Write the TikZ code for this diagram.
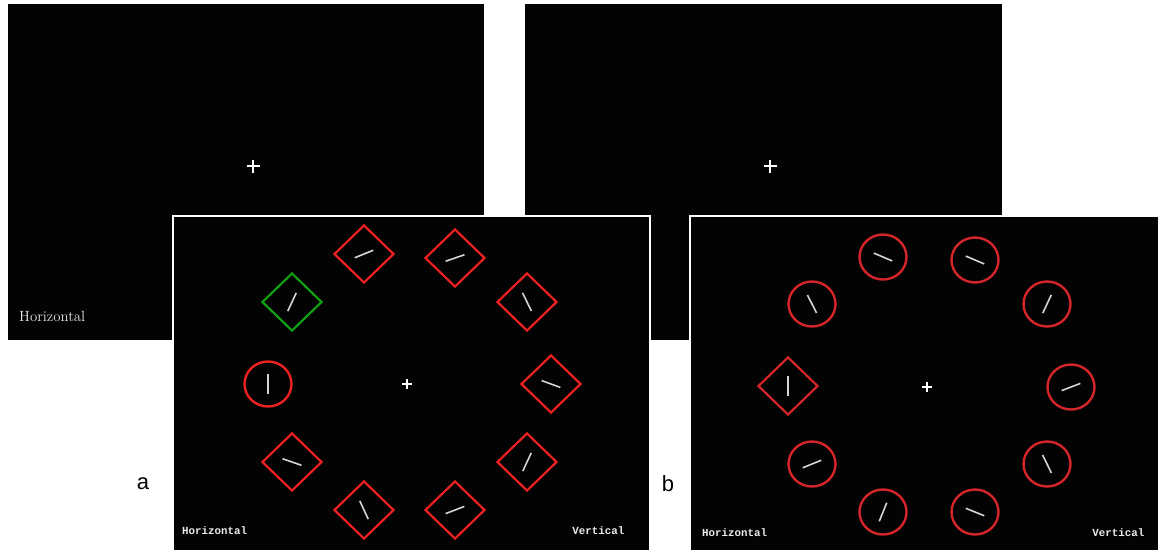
\documentclass[tikz,border=0pt]{standalone}
\usepackage{fontspec}
\setmonofont{Liberation Mono}
\newfontfamily\arialfont{Liberation Sans}
\usetikzlibrary{shapes.geometric}
\definecolor{scr}{HTML}{030303}
\definecolor{redA}{HTML}{EE2020}
\definecolor{redB}{HTML}{D4262A}
\definecolor{grnA}{HTML}{10A010}
\definecolor{bargray}{HTML}{D4D4D4}
\tikzset{
  screen/.style={fill=scr},
  frame/.style={fill=white},
  dia/.style={shape=diamond, draw, line width=2.2pt, minimum width=60pt, minimum height=58pt, inner sep=0pt},
  ring/.style={shape=ellipse, draw, line width=2.4pt, minimum width=47pt, minimum height=45pt, inner sep=0pt},
  bar/.style={draw=bargray, line width=1.6pt},
  fixline/.style={draw=white, line width=2.2pt},
  monolab/.style={text=white!92!black, font=\ttfamily\bfseries\fontsize{10.8}{12}\selectfont, inner sep=0pt},
  seriflab/.style={text=white!92!black, font=\fontsize{14.8}{17}\selectfont, inner sep=0pt},
  panellab/.style={text=black, font=\arialfont\fontsize{22}{24}\selectfont, inner sep=0pt}
}
\newcommand\stimbar[2]{\draw[bar] ([shift={(#2:10pt)}]#1.center) -- ([shift={(#2+180:10pt)}]#1.center);}
\newcommand\fixcross[2]{\draw[fixline] ([xshift=-#2]#1) -- ([xshift=#2]#1); \draw[fixline] ([yshift=-#2]#1) -- ([yshift=#2]#1);}
\begin{document}
\begin{tikzpicture}[x=1pt,y=-1pt]
\useasboundingbox[fill=white] (0,0) rectangle (1158,550);
% back screens
\fill[screen] (8,4) rectangle (484,340);
\fill[screen] (525,4) rectangle (1002,340);
\coordinate (fixA0) at (253,166);
\coordinate (fixB0) at (770,166);
\fixcross{fixA0}{6.5pt}
\fixcross{fixB0}{6.5pt}
\node[seriflab, anchor=base west] (hA0) at (19,321) {Horizontal};
% front screens
\fill[frame] (171.5,214.5) rectangle (651,550);
\fill[screen] (173.5,216.5) rectangle (648.7,550);
\fill[frame] (688.5,214.5) rectangle (1158,550);
\fill[screen] (690.5,216.5) rectangle (1158,550);
% panel a
\coordinate (fixA) at (407,384);
\fixcross{fixA}{5pt}
\node[dia, draw=grnA] (a1) at (292,302) {};
\node[dia, draw=redA] (a2) at (364,254) {};
\node[dia, draw=redA] (a3) at (455,258) {};
\node[dia, draw=redA] (a4) at (527,302) {};
\node[dia, draw=redA] (a5) at (551,384) {};
\node[dia, draw=redA] (a6) at (527,462) {};
\node[dia, draw=redA] (a7) at (455,510) {};
\node[dia, draw=redA] (a8) at (364,510) {};
\node[dia, draw=redA] (a9) at (292,462) {};
\node[ring, draw=redA] (a0) at (268,384) {};
\stimbar{a1}{65}
\stimbar{a2}{22}
\stimbar{a3}{19}
\stimbar{a4}{-64}
\stimbar{a5}{-20}
\stimbar{a6}{65}
\stimbar{a7}{21}
\stimbar{a8}{-65}
\stimbar{a9}{-19}
\stimbar{a0}{90}
\node[monolab, anchor=west] (hA) at (182,531) {Horizontal};
\node[monolab, anchor=east] (vA) at (624.5,531) {Vertical};
% panel b
\coordinate (fixB) at (927,387);
\fixcross{fixB}{5pt}
\node[dia, draw=redB] (b0) at (788,386) {};
\node[ring, draw=redB] (b1) at (883,257) {};
\node[ring, draw=redB] (b2) at (975,260) {};
\node[ring, draw=redB] (b3) at (812,304) {};
\node[ring, draw=redB] (b4) at (1047,304) {};
\node[ring, draw=redB] (b5) at (1071,387) {};
\node[ring, draw=redB] (b6) at (812,464) {};
\node[ring, draw=redB] (b7) at (1047,464) {};
\node[ring, draw=redB] (b8) at (883,512) {};
\node[ring, draw=redB] (b9) at (975,512) {};
\stimbar{b0}{90}
\stimbar{b1}{-23}
\stimbar{b2}{-23}
\stimbar{b3}{-63}
\stimbar{b4}{65}
\stimbar{b5}{21}
\stimbar{b6}{22}
\stimbar{b7}{-64}
\stimbar{b8}{68}
\stimbar{b9}{-22}
\node[monolab, anchor=west] (hB) at (702,532.5) {Horizontal};
\node[monolab, anchor=east] (vB) at (1144.5,532.5) {Vertical};
% panel letters
\node[panellab] (la) at (143,484) {a};
\node[panellab] (lb) at (668,484) {b};
\end{tikzpicture}
\end{document}
